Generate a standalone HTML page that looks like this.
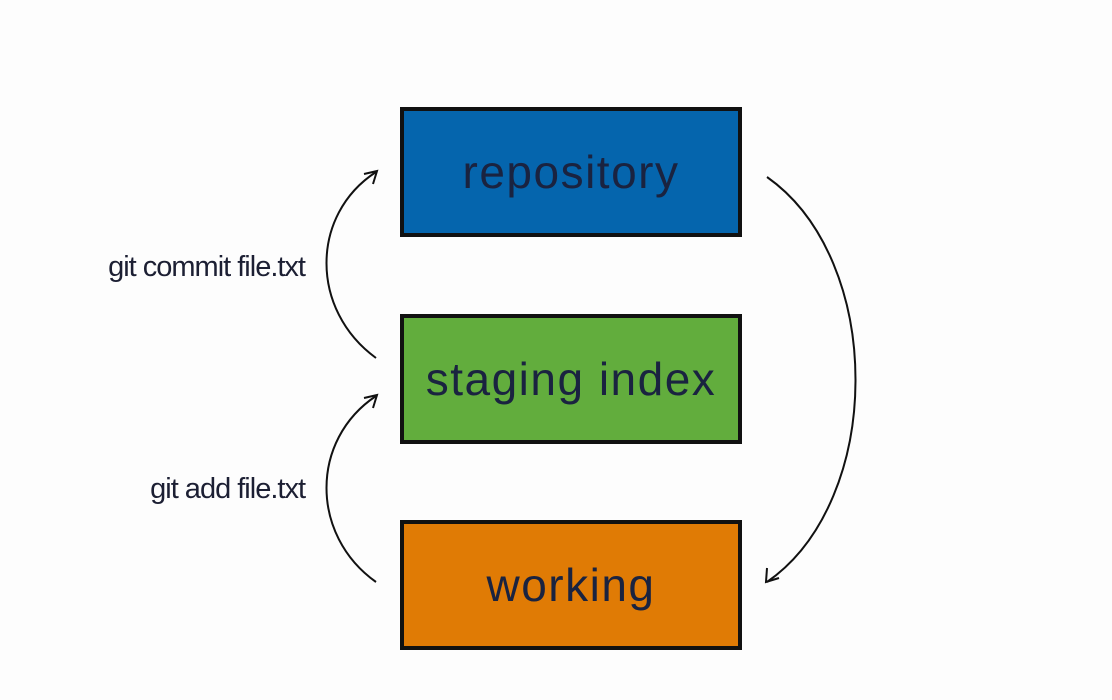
<!DOCTYPE html>
<html><head><style>
body{margin:0;width:1112px;height:700px;background:#fdfdfd;position:relative;overflow:hidden;font-family:"Liberation Sans",sans-serif}
.b{position:absolute;left:400px;width:334px;height:122px;border:4px solid #111;display:flex;align-items:center;justify-content:center;font-size:46px;color:#1a2340;letter-spacing:1.5px}
.l{position:absolute;right:807px;font-size:29px;color:#1c1f33;letter-spacing:-1px;white-space:nowrap}
</style></head><body>
<div class="b" style="top:107px;background:#0565ad">repository</div>
<div class="b" style="top:314px;background:#62ad3d">staging index</div>
<div class="b" style="top:520px;background:#e07b05">working</div>
<div class="l" style="top:251px">git commit file.txt</div>
<div class="l" style="top:473px">git add file.txt</div>
<svg width="1112" height="700" style="position:absolute;left:0;top:0" fill="none" stroke="#111" stroke-width="2">
<path d="M376 358 C310 310 310 215 376 172"/>
<path d="M364 174 L377 171 L373 184"/>
<path d="M376 582 C310 535 310 440 376 396"/>
<path d="M364 398 L377 395 L373 408"/>
<path d="M767 177 C885 260 885 500 767 582"/>
<path d="M767 568 L766 582 L779 578"/>
</svg>
</body></html>
